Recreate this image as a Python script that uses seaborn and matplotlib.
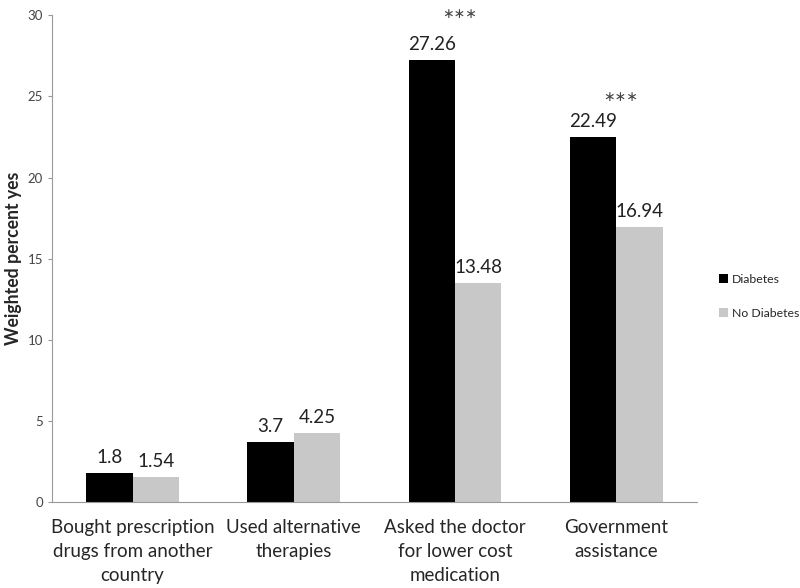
import matplotlib
matplotlib.use("Agg")
import matplotlib.pyplot as plt
import pandas as pd
import seaborn as sns

categories = [
    "Bought prescription\ndrugs from another\ncountry",
    "Used alternative\ntherapies",
    "Asked the doctor\nfor lower cost\nmedication",
    "Government\nassistance",
]
diabetes = [1.8, 3.7, 27.26, 22.49]
no_diabetes = [1.54, 4.25, 13.48, 16.94]
significance = ["", "", "\u2217\u2217\u2217", "\u2217\u2217\u2217"]
significance_y = [None, None, 30.1, 24.95]
groups = ["Diabetes", "No Diabetes"]

sns.set_style("white")
plt.rcParams["font.family"] = ["Lato", "DejaVu Sans"]

df = pd.DataFrame({
    "category": categories * 2,
    "group": [groups[0]] * 4 + [groups[1]] * 4,
    "value": diabetes + no_diabetes,
})

fig = plt.figure(figsize=(8, 5.88), dpi=100)
ax = fig.add_axes([0.065, 0.146, 0.806, 0.828])
sns.barplot(
    data=df, x="category", y="value", hue="group",
    palette=["#000000", "#c8c8c8"], width=0.575, gap=0,
    edgecolor="none", ax=ax,
)

for container in ax.containers:
    ax.bar_label(container, labels=[f"{v:g}" for v in container.datavalues],
                 padding=5, fontsize=13.5, color="#222222")

for i, mark in enumerate(significance):
    if mark:
        ax.text(i + 0.03, significance_y[i], mark, ha="center", va="center",
                fontsize=10, color="#444444", clip_on=False,
                family="DejaVu Sans")

ax.set_ylim(0, 30)
ax.set_yticks(range(0, 31, 5))
ax.set_xlabel("")
ax.set_ylabel("Weighted percent yes", fontsize=12.7, fontweight="bold")
ax.tick_params(axis="y", labelsize=9.5, labelcolor="#444444", length=3,
               color="#999999", left=True)
ax.tick_params(axis="x", labelsize=13.5, length=0, pad=12)
for lbl in ax.get_xticklabels():
    lbl.set_multialignment("center")
    lbl.set_linespacing(1.5)
sns.despine(ax=ax, top=True, right=True)
ax.spines["left"].set_color("#999999")
ax.spines["bottom"].set_color("#999999")

ax.legend(title="", loc="center left", bbox_to_anchor=(1.035, 0.423),
          borderaxespad=0, borderpad=0, frameon=False, fontsize=8.8,
          handlelength=0.7, handleheight=0.7, handletextpad=0.3,
          labelspacing=1.9)

fig.savefig("out.png", dpi=100)
